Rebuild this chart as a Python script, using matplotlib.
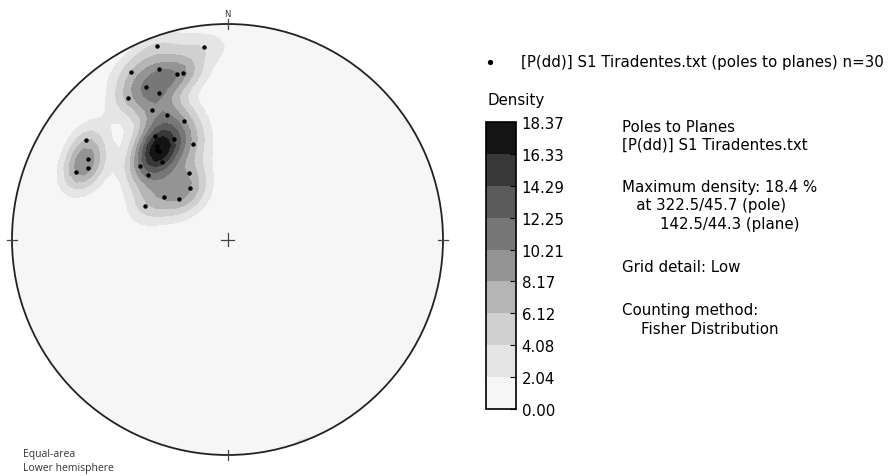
import numpy as np
import matplotlib
matplotlib.use("Agg")
import matplotlib.pyplot as plt
from matplotlib.patches import Circle
from matplotlib.lines import Line2D

# Planes of S1 (dip direction / dip, degrees); their poles are plotted
dip_direction = [160, 173, 150, 158, 163, 165, 152, 155, 145, 150,
                 154, 160, 145, 152, 160, 142, 143, 142, 140, 130,
                 129, 150, 144, 124, 130, 112, 125, 120, 117, 114]
dip = [85, 79, 79, 74, 69, 69, 69, 64, 69, 59,
       54, 49, 49, 44, 39, 44, 45, 43, 39, 44,
       39, 29, 24, 29, 24, 34, 69, 64, 62, 66]

dataset_name = "[P(dd)] S1 Tiradentes.txt"
fisher_k = 100.0
grid_nodes = 61
n_levels = 9

W, H = 888, 477
fig = plt.figure(figsize=(W / 100, H / 100), dpi=100)
FS = 10.8


def fx(x):
    return x / W


def fy(y):
    return 1 - y / H


def unit_vec(trend, theta):
    # north, east, down components; theta measured from the vertical
    return np.stack([np.sin(theta) * np.cos(trend),
                     np.sin(theta) * np.sin(trend),
                     np.cos(theta)], axis=-1)


# poles to planes
p_trend = np.radians(np.asarray(dip_direction, float) + 180.0)
p_theta = np.radians(np.asarray(dip, float))
poles = unit_vec(p_trend, p_theta)
rp = np.sqrt(2) * np.sin(p_theta / 2)
xp = rp * np.sin(p_trend)
yp = rp * np.cos(p_trend)

# Fisher counting (percent of data per 1 % of the hemisphere)
g = np.linspace(-1, 1, grid_nodes)
X, Y = np.meshgrid(g, g)
rho = np.clip(np.hypot(X, Y), 0, 1)
g_trend = np.arctan2(X, Y)
g_theta = 2 * np.arcsin(rho / np.sqrt(2))
nodes = unit_vec(g_trend, g_theta)
cosang = np.abs(nodes @ poles.T)
kernel = 0.01 * fisher_k * np.exp(fisher_k * (cosang - 1))
dens = 100.0 / len(poles) * kernel.sum(axis=-1)
levels = np.linspace(0, dens.max(), n_levels + 1)
colors = plt.cm.Greys(np.linspace(0.08, 0.93, n_levels))

# stereonet
ax = fig.add_axes([fx(12), fy(456), 431 / W, 431 / H])
ax.set_xlim(-1, 1)
ax.set_ylim(-1, 1)
ax.axis("off")

cs = ax.contourf(X, Y, dens, levels=levels, colors=colors)
clip = Circle((0, 0), 1, transform=ax.transData)
cs.set_clip_path(clip)

ax.add_patch(Circle((0, 0), 1, fill=False, ec="#222222", lw=1.3, clip_on=False))
t = 0.022
c = 0.028
tick_kw = dict(color="#444444", lw=0.9, clip_on=False)
ax.plot([0, 0], [1 - t, 1 + t], **tick_kw)
ax.plot([0, 0], [-1 - t, -1 + t], **tick_kw)
ax.plot([-1 - t, -1 + t], [0, 0], **tick_kw)
ax.plot([1 - t, 1 + t], [0, 0], **tick_kw)
ax.plot([-c, c], [0, 0], **tick_kw)
ax.plot([0, 0], [-c, c], **tick_kw)
ax.text(0, 1.03, "N", ha="center", va="bottom", fontsize=6, color="#333333")

ax.plot(xp, yp, "o", ms=3.2, color="black", mec="none", clip_on=False)

fig.text(fx(23), fy(455), "Equal-area", fontsize=7.5, family="Open Sans",
         va="center", color="#333333")
fig.text(fx(23), fy(469), "Lower hemisphere", fontsize=7.5, family="Open Sans",
         va="center", color="#333333")

# legend entry
fig.add_artist(Line2D([fx(490)], [fy(63)], marker="o", ms=3.8, color="black",
                      mec="none", transform=fig.transFigure))
fig.text(fx(521), fy(62), f"{dataset_name} (poles to planes) n={len(poles)}",
         fontsize=FS, va="center")

# colour scale
fig.text(fx(487), fy(101), "Density", fontsize=FS, va="center")
cax = fig.add_axes([fx(486), fy(410), 30 / W, 287 / H])
cb = fig.colorbar(cs, cax=cax, ticks=levels, format="%.2f")
cb.outline.set_linewidth(1.2)
cax.tick_params(labelsize=FS, direction="in", length=4, width=0.8, pad=4)

# summary text
lines = [
    (127, "Poles to Planes"),
    (145, dataset_name),
    (188, "Maximum density: 18.4 %"),
    (206, "   at 322.5/45.7 (pole)"),
    (225, "        142.5/44.3 (plane)"),
    (268, "Grid detail: Low"),
    (310, "Counting method:"),
    (329, "    Fisher Distribution"),
]
for y, s in lines:
    fig.text(fx(622), fy(y), s, fontsize=FS, va="center")

fig.savefig("out.png", dpi=100)
